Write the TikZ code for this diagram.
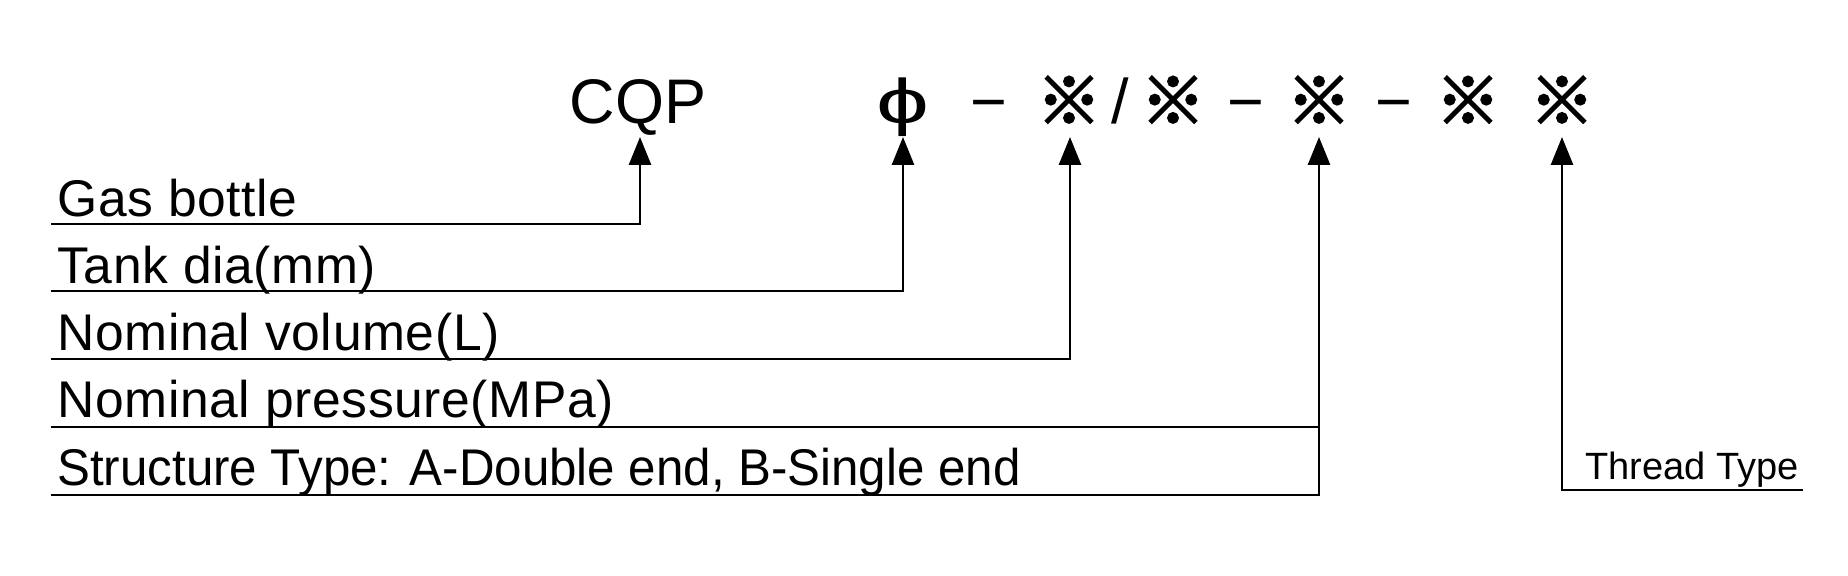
\documentclass[tikz,border=0pt]{standalone}
\usepackage{fontspec}
\setmainfont{Liberation Sans}
\newfontfamily\lblf{Liberation Sans}[LetterSpace=1.2]
\newfontfamily\lblc{Liberation Sans}[FakeStretch=0.955]
\newfontfamily\cjkf{Noto Sans CJK SC}[FakeBold=3.5]
\usetikzlibrary{arrows.meta}
\begin{document}
\begin{tikzpicture}[x=0.5pt,y=-0.5pt,
  lbl/.style={anchor=base west,inner sep=0pt,font=\lblf\fontsize{25.8}{30}\selectfont},
  code/.style={anchor=base,inner sep=0pt,font=\fontsize{31.5}{36}\selectfont},
  refmark/.style={anchor=base,inner sep=0pt,font=\cjkf\fontsize{32}{36}\selectfont},
  conn/.style={line width=1.4pt},
  arr/.style={conn,-{Triangle[length=14pt,width=11pt]}}]
\useasboundingbox (0,0) rectangle (1848,576);
% code row
\node[code] (cqp) at (638,124) {CQP};
\node[code] (phi) at (903,124) {\scalebox{1.5}[1]{ϕ}};
\node[code] (d1) at (989,124) {−};
\node[refmark] (m1) at (1069,124) {※};
\node[code] (sl) at (1120,124) {/};
\node[refmark] (m2) at (1173,124) {※};
\node[code] (d2) at (1246,124) {−};
\node[refmark] (m3) at (1319,124) {※};
\node[code] (d3) at (1394,124) {−};
\node[refmark] (m4) at (1468,124) {※};
\node[refmark] (m5) at (1562,124) {※};
% arrow tips
\coordinate (t1) at (640,137);
\coordinate (t2) at (903,137);
\coordinate (t3) at (1070,137);
\coordinate (t4) at (1319,137);
\coordinate (t5) at (1562,137);
% labels
\node[lbl] (l1) at (57,217) {Gas bottle};
\node[lbl] (l2) at (57,284) {Tank dia(mm)};
\node[lbl] (l3) at (57,351) {Nominal volume(L)};
\node[lbl] (l4) at (57,418) {Nominal pressure(MPa)};
\node[lbl,font=\lblc\fontsize{25.8}{30}\selectfont] (l5) at (57,486) {Structure Type: A-Double end, B-Single end};
\node[anchor=base west,inner sep=0pt,font=\fontsize{19}{23}\selectfont] (l6) at (1585,480) {Thread Type};
% line starts
\coordinate (s1) at (51,224);
\coordinate (s2) at (51,291);
\coordinate (s3) at (51,359);
\coordinate (s4) at (51,427);
\coordinate (s5) at (51,495);
\coordinate (s6) at (1803,490);
% connectors
\draw[arr] (s1) -| (t1);
\draw[arr] (s2) -| (t2);
\draw[arr] (s3) -| (t3);
\draw[conn] (s4) -- (s4 -| t4);
\draw[arr] (s5) -| (t4);
\draw[arr] (s6) -| (t5);
\end{tikzpicture}
\end{document}
